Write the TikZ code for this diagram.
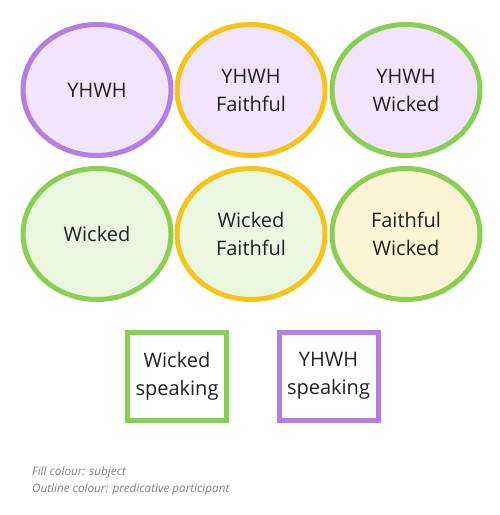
\documentclass[tikz,border=0pt]{standalone}
\usepackage{fontspec}
\setmainfont{Open Sans}
\usetikzlibrary{shapes.geometric}
\definecolor{cpurple}{HTML}{B57EE5}
\definecolor{cyellow}{HTML}{F5C416}
\definecolor{cgreen}{HTML}{88CF52}
\definecolor{flav}{HTML}{F1E4FC}
\definecolor{fgreen}{HTML}{EAF6E0}
\definecolor{fyel}{HTML}{FDF3D5}
\definecolor{ctext}{HTML}{222222}
\definecolor{cgray}{HTML}{808080}
\begin{document}
\begin{tikzpicture}[x=1pt,y=-1pt,
  oval/.style={ellipse,line width=5pt,minimum width=148pt,minimum height=131pt,inner sep=0pt,
    align=center,text=ctext,font=\fontsize{20}{28}\selectfont},
  sbox/.style={rectangle,line width=5pt,minimum width=99pt,minimum height=88pt,inner sep=0pt,
    align=center,text=ctext,font=\fontsize{20}{28}\selectfont,fill=white},
  legend/.style={anchor=west,inner sep=0pt,text=cgray,font=\fontsize{11.7}{17.5}\selectfont\itshape,align=left}]
\useasboundingbox[fill=white] (0,0) rectangle (500,515);
\node[oval,draw=cpurple,fill=flav] (a) at (97,90) {YHWH};
\node[oval,draw=cyellow,fill=flav] (b) at (251,90) {YHWH\\Faithful};
\node[oval,draw=cgreen,fill=flav] (c) at (406,90) {YHWH\\Wicked};
\node[oval,draw=cgreen,fill=fgreen] (d) at (97,234) {Wicked};
\node[oval,draw=cyellow,fill=fgreen] (e) at (251,234) {Wicked\\Faithful};
\node[oval,draw=cgreen,fill=fyel] (f) at (406,234) {Faithful\\Wicked};
\node[sbox,draw=cgreen] (g) at (177,376) {Wicked\\speaking};
\node[sbox,draw=cpurple] (h) at (328.5,376) {YHWH\\speaking};
\node[legend] (l) at (32,481) {Fill colour: subject\\Outline colour: predicative participant};
\end{tikzpicture}
\end{document}
